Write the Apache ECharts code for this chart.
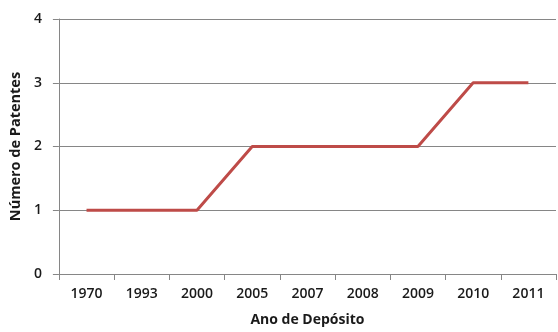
<!DOCTYPE html>
<html><head><meta charset="utf-8">
<script src="https://cdn.jsdelivr.net/npm/echarts@6/dist/echarts.min.js"></script>
<style>html,body{margin:0;padding:0;background:#fff}#c{width:558px;height:332px}</style>
</head><body><div id="c"></div>
<script>
var categories = ['1970','1993','2000','2005','2007','2008','2009','2010','2011'];
var patentes = [1,1,1,2,2,2,2,3,3];
var yTicks = [0,1,2,3,4];

var chart = echarts.init(document.getElementById('c'), null, {renderer:'canvas'});
chart.setOption({
  animation:false,
  grid:{left:54, right:2, top:19, bottom:53},
  xAxis:{
    type:'category', data:categories, boundaryGap:true,
    name:'Ano de Depósito', nameLocation:'middle', nameGap:39,
    nameTextStyle:{fontFamily:'Open Sans', fontSize:14, fontWeight:'bold', color:'#1a1a1a'},
    axisLine:{lineStyle:{color:'#868686', width:1}},
    axisTick:{show:true, length:6, lineStyle:{color:'#868686'}},
    axisLabel:{fontFamily:'Open Sans', fontSize:14, fontWeight:600, color:'#1a1a1a', margin:13}
  },
  yAxis:{
    type:'value', min:yTicks[0], max:yTicks[yTicks.length-1], interval:1,
    name:'Número de Patentes', nameLocation:'middle', nameGap:30, nameRotate:90,
    nameTextStyle:{fontFamily:'Open Sans', fontSize:14.5, fontWeight:'bold', color:'#1a1a1a'},
    axisLine:{show:true, lineStyle:{color:'#868686', width:1}},
    axisTick:{show:true, length:6, lineStyle:{color:'#868686'}},
    axisLabel:{fontFamily:'Open Sans', fontSize:14, fontWeight:600, color:'#1a1a1a', margin:17},
    splitLine:{show:true, lineStyle:{color:'#868686', width:1}}
  },
  series:[{
    type:'line', data:patentes, symbol:'none',
    lineStyle:{color:'#BE4B48', width:3}
  }]
});
</script></body></html>
